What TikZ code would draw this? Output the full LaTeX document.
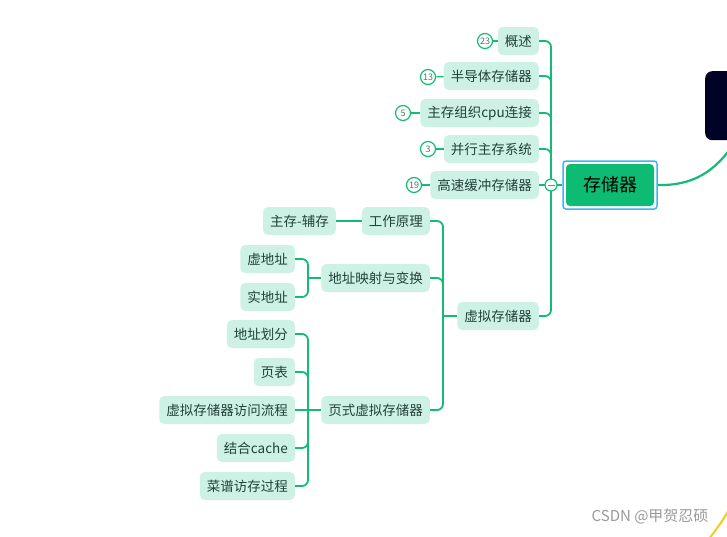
\documentclass[tikz,border=0pt]{standalone}
\usepackage{fontspec}
\setmainfont{Noto Sans CJK SC}
\begin{document}
\begin{tikzpicture}[x=1pt,y=-1pt,
  nd/.style={draw=none,fill=mint,rounded corners=5pt,minimum height=28pt,inner xsep=7pt,inner ysep=0pt,
    text=txt,font=\fontsize{13.5}{14}\selectfont,anchor=east},
  cnt/.style={circle,draw=lgreen,line width=1.2pt,fill=white,minimum size=15pt,inner sep=0pt,
    text=cnttxt,font=\fontsize{9}{9}\selectfont},
  conn/.style={draw=lgreen,line width=1.8pt,rounded corners=6pt},
  thin/.style={draw=lgreen,line width=1.2pt}]
\definecolor{mint}{HTML}{CDF1E4}
\definecolor{lgreen}{HTML}{12BC74}
\definecolor{txt}{HTML}{23413A}
\definecolor{cnttxt}{HTML}{4A7A66}
\definecolor{rootg}{HTML}{0DBB73}
\definecolor{blueb}{HTML}{3DB5F5}
\definecolor{darkb}{HTML}{000326}
\definecolor{yel}{HTML}{F2CE1A}
\useasboundingbox (0,0) rectangle (727,536);
\fill[white] (0,0) rectangle (727,536);

% dark box partly visible
\node[fill=darkb,rounded corners=7pt,minimum width=70pt,minimum height=69pt,anchor=north west,inner sep=0pt] (dark) at (705,71) {};
\coordinate (darkend) at (738,138);

% root
\node[draw=blueb,line width=1.5pt,rounded corners=3pt,minimum width=94pt,minimum height=48pt,inner sep=0pt] (rootbox) at (610,185) {};
\node[fill=rootg,rounded corners=4pt,minimum width=88pt,minimum height=42pt,inner sep=0pt,
  font=\fontsize{18}{18}\selectfont,text=black] (root) at (610,185) {存储器};

\draw[lgreen,line width=2.2pt] (rootbox.east) .. controls (700,186) and (720,165) .. (darkend);

% first-level nodes
\node[nd] (n1) at (539,41) {概述};
\node[nd] (n2) at (539,76) {半导体存储器};
\node[nd] (n3) at (539,113) {主存组织cpu连接};
\node[nd] (n4) at (539,149) {并行主存系统};
\node[nd] (n5) at (539,185) {高速缓冲存储器};
\node[nd] (n6) at (539,316) {虚拟存储器};

\coordinate (hub) at (551,185);
\foreach \n in {n1,n2,n3,n4,n6} \draw[conn] (\n.east) -| (hub);
\draw[conn] (n5.east) -- (hub);
\draw[conn] (rootbox.west) -- (hub);
\node[circle,draw=lgreen,line width=1.2pt,fill=white,minimum size=12pt,inner sep=0pt] (col) at (hub) {};
\draw[lgreen,line width=1pt] ([xshift=-3.5pt]col.center) -- ([xshift=3.5pt]col.center);

% counts
\node[cnt] (c1) at (485,41) {23};
\node[cnt] (c2) at (428,77) {13};
\node[cnt] (c3) at (403,113) {5};
\node[cnt] (c4) at (428,149) {3};
\node[cnt] (c5) at (414,185) {19};
\draw[thin] (c1) -- (n1); \draw[thin] (c2) -- (n2); \draw[thin] (c3) -- (n3);
\draw[thin] (c4) -- (n4); \draw[thin] (c5) -- (n5);

% virtual memory subtree
\node[nd] (v1) at (430,221) {工作原理};
\node[nd] (v2) at (430,278) {地址映射与变换};
\node[nd] (v3) at (430,410) {页式虚拟存储器};
\coordinate (hub2) at (443,316);
\foreach \n in {v1,v2,v3} \draw[conn] (\n.east) -| (hub2);
\draw[conn] (n6.west) -- (hub2);

\node[nd] (w1) at (336,221) {主存-辅存};
\draw[conn] (w1.east) -- (v1.west);

\node[nd] (a1) at (295,259) {虚地址};
\node[nd] (a2) at (295,297) {实地址};
\coordinate (hub3) at (308,278);
\foreach \n in {a1,a2} \draw[conn] (\n.east) -| (hub3);
\draw[conn] (v2.west) -- (hub3);

\node[nd] (p1) at (295,334) {地址划分};
\node[nd] (p2) at (295,372) {页表};
\node[nd] (p3) at (295,410) {虚拟存储器访问流程};
\node[nd] (p4) at (295,448) {结合cache};
\node[nd] (p5) at (295,486) {菜谱访存过程};
\coordinate (hub4) at (308,410);
\foreach \n in {p1,p2,p4,p5} \draw[conn] (\n.east) -| (hub4);
\draw[conn] (p3.east) -- (v3.west);

% yellow curve
\draw[yel,line width=2pt] (708,540) .. controls (716,530) and (722,522) .. (730,508);

% watermark
\node[text=gray!80,font=\fontsize{15}{15}\selectfont,anchor=east] (wm) at (712,517) {CSDN @甲贺忍硕};
\end{tikzpicture}
\end{document}
